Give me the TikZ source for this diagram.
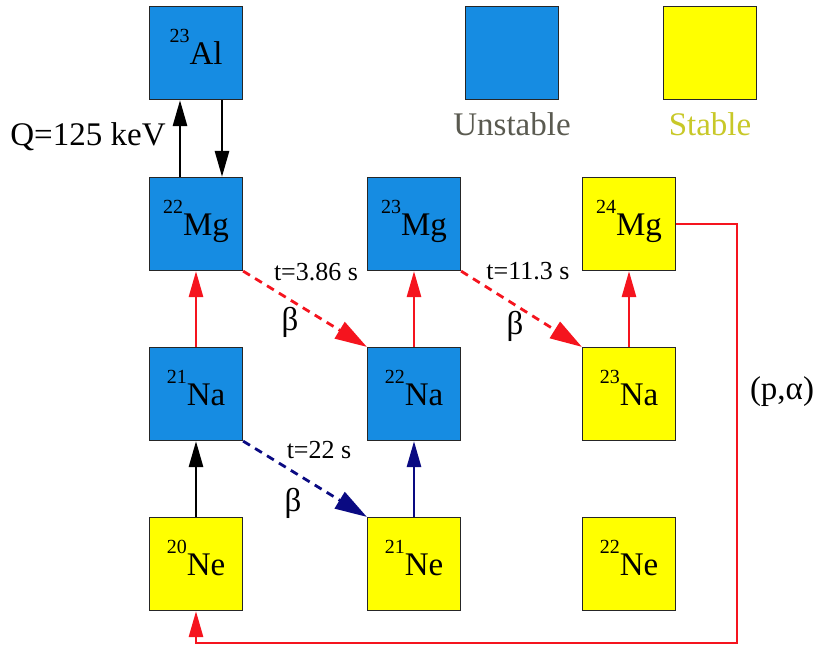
\documentclass[tikz,border=0pt]{standalone}
\usepackage{fontspec}
\setmainfont{Liberation Serif}
\usetikzlibrary{arrows.meta,positioning}
\definecolor{nucblue}{RGB}{22,140,226}
\definecolor{nucyellow}{RGB}{255,255,0}
\definecolor{flowred}{RGB}{245,20,30}
\definecolor{flownavy}{RGB}{10,10,130}
\definecolor{unstabletext}{RGB}{90,90,80}
\definecolor{stabletext}{RGB}{200,200,40}
\newcommand{\iso}[2]{\raisebox{11pt}{\fontsize{10}{10}\selectfont #1}#2}

\begin{document}
\begin{tikzpicture}[x=0.5pt,y=-0.5pt,>=Latex,
  nucbox/.style={draw=black!85,line width=0.6pt,minimum size=46.5pt,inner sep=0pt,
    font=\fontsize{16.5}{16.5}\selectfont,text depth=6pt},
  unstable/.style={nucbox,fill=nucblue},
  stable/.style={nucbox,fill=nucyellow},
  lbl/.style={font=\fontsize{16.5}{16.5}\selectfont},
  timelbl/.style={font=\fontsize{13}{13}\selectfont},
  flow/.style={line width=1.4pt,-{Triangle[length=13pt,width=7pt]}},
  decay/.style={line width=1.4pt,dash pattern=on 4pt off 3pt,-{Triangle[length=16pt,width=9.5pt]}}]
  \useasboundingbox (0,0) rectangle (818,646);
  % chart
  \node[unstable] (alA) at (196,53) {\iso{23}{Al}};
  \node[unstable] (mgA) at (196,224) {\iso{22}{Mg}};
  \node[unstable] (mgB) at (414,224) {\iso{23}{Mg}};
  \node[stable] (mgC) at (629,224) {\iso{24}{Mg}};
  \node[unstable] (naA) at (196,394) {\iso{21}{Na}};
  \node[unstable] (naB) at (414,394) {\iso{22}{Na}};
  \node[stable] (naC) at (629,394) {\iso{23}{Na}};
  \node[stable] (neA) at (196,564) {\iso{20}{Ne}};
  \node[stable] (neB) at (414,564) {\iso{21}{Ne}};
  \node[stable] (neC) at (629,564) {\iso{22}{Ne}};
  % legend
  \node[unstable] (legU) at (512,53) {};
  \node[stable] (legS) at (710,53) {};
  \node[lbl,text=unstabletext,below=2.5pt of legU] (legUtxt) {Unstable};
  \node[lbl,text=stabletext,below=2.5pt of legS] (legStxt) {Stable};
  % reactions
  \draw[flow] ([xshift=-8pt]mgA.north) -- ([xshift=-8pt]alA.south);
  \draw[flow] ([xshift=13pt]alA.south) -- ([xshift=13pt]mgA.north);
  \node[lbl] (qval) at (88,137) {Q=125 keV};
  \draw[flow,flowred] (naA) -- (mgA);
  \draw[flow,flowred] (naB) -- (mgB);
  \draw[flow,flowred] (naC) -- (mgC);
  \draw[flow] (neA) -- (naA);
  \draw[flow,flownavy] (neB) -- (naB);
  % beta decays
  \draw[decay,flowred] (mgA.south east) -- (naB.north west);
  \draw[decay,flowred] (mgB.south east) -- (naC.north west);
  \draw[decay,flownavy] (naA.south east) -- (neB.north west);
  \node[timelbl] (tmgA) at (316,272) {t=3.86 s};
  \node[timelbl] (tmgB) at (528,271) {t=11.3 s};
  \node[timelbl] (tnaA) at (319,450) {t=22 s};
  \node[lbl] (bmgA) at (290,322) {β};
  \node[lbl] (bmgB) at (515,326) {β};
  \node[lbl] (bnaA) at (293,503) {β};
  % (p,alpha) closing the cycle
  \coordinate (loopR) at (737,643);
  \draw[flow,flowred] (mgC.east) -| (loopR) -| (neA.south);
  \node[lbl] (palpha) at (782,392) {(p,α)};
\end{tikzpicture}
\end{document}
